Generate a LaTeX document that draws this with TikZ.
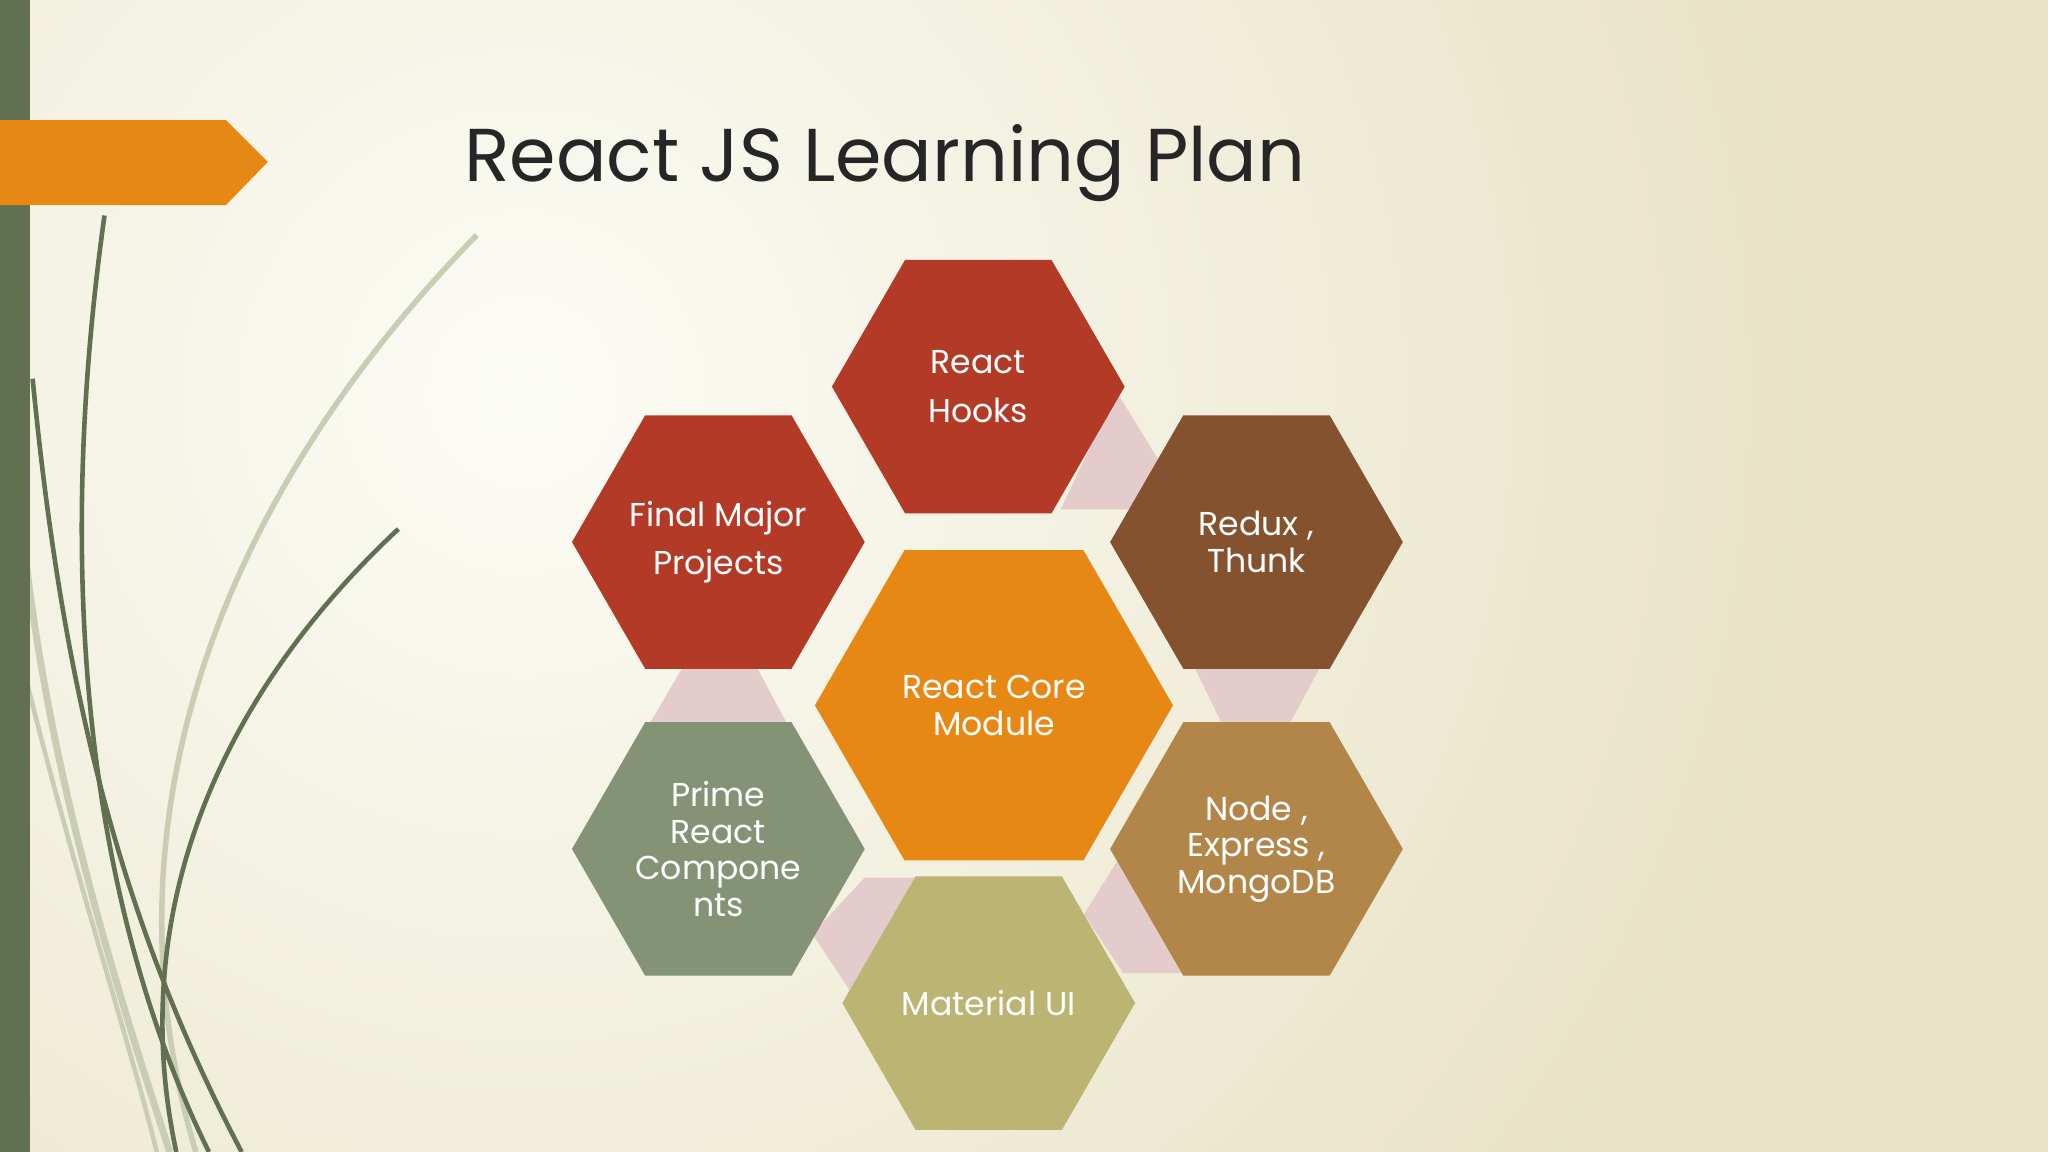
\documentclass[tikz,border=0pt]{standalone}
\usepackage{fontspec}
\setmainfont{Poppins}
\usetikzlibrary{shapes.geometric}
\definecolor{bgA}{RGB}{252,252,246}
\definecolor{bgB}{RGB}{232,227,198}
\definecolor{barg}{RGB}{96,112,80}
\definecolor{orng}{RGB}{232,136,20}
\definecolor{hred}{RGB}{178,58,38}
\definecolor{hbrown}{RGB}{133,82,48}
\definecolor{hsage}{RGB}{132,146,117}
\definecolor{holive}{RGB}{188,180,115}
\definecolor{htan}{RGB}{178,134,72}
\definecolor{pinkc}{RGB}{228,204,204}
\definecolor{grassl}{RGB}{200,205,180}
\tikzset{x=0.01cm,y=-0.01cm,
 hexa/.style={regular polygon,regular polygon sides=6,minimum size=2.24cm,inner sep=0pt,
   text=white,align=center,font=\fontsize{7.2}{9.5}\selectfont},
 gap/.style={fill=pinkc,draw=none}}
\begin{document}
\begin{tikzpicture}
\useasboundingbox (0,0) rectangle (1568,882);
\fill[bgB] (0,0) rectangle (1568,882);
\shade[inner color=bgA,outer color=bgB] (-600,-700) rectangle (1400,1300);
\clip (0,0) rectangle (1568,882);
% grass
\draw[grassl,line width=1.2pt] (365,180) .. controls (150,400) and (80,650) .. (150,882);
\draw[grassl,line width=1.5pt] (20,430) .. controls (40,600) and (90,760) .. (130,882);
\draw[barg,line width=1pt] (80,165) .. controls (40,450) and (70,700) .. (160,882);
\draw[barg,line width=1pt] (25,290) .. controls (50,550) and (100,720) .. (185,882);
\draw[barg,line width=1pt] (305,405) .. controls (150,550) and (100,720) .. (135,882);
\draw[grassl,line width=1pt] (20,520) .. controls (60,680) and (100,800) .. (120,882);
% left bar and arrow
\fill[barg] (0,0) rectangle (23,882);
\fill[orng] (0,92) -- (173,92) -- (205,124) -- (173,157) -- (0,157) -- cycle;
\node[anchor=west,font=\fontsize{16.3}{20}\selectfont,text=black!85] (title) at (343,125) {React JS Learning Plan};
% gaps
\fill[gap] (855,300) -- (893,362) -- (872,390) -- (812,390) -- cycle;
\fill[gap] (522,512) -- (580,512) -- (602,553) -- (498,553) -- cycle;
\fill[gap] (915,512) -- (1010,512) -- (988,553) -- (935,553) -- cycle;
\fill[gap] (662,672) -- (700,672) -- (655,765) -- (622,715) -- cycle;
\fill[gap] (858,655) -- (905,745) -- (860,745) -- (830,700) -- cycle;
% hexagons
\node[hexa,fill=hred] (hooks) at (749,296) {React\\[1pt]Hooks};
\node[hexa,fill=hred] (final) at (550,415) {Final Major\\[1pt]Projects};
\node[hexa,fill=hbrown,font=\fontsize{7.2}{8}\selectfont] (redux) at (962,415) {Redux ,\\Thunk};
\node[hexa,fill=orng,minimum size=2.74cm,font=\fontsize{7.2}{8}\selectfont] (core) at (761,540) {React Core\\Module};
\node[hexa,fill=hsage,font=\fontsize{7.2}{8}\selectfont] (prime) at (550,650) {Prime\\React\\Compone\\nts};
\node[hexa,fill=holive] (mat) at (757,768) {Material UI};
\node[hexa,fill=htan,font=\fontsize{7.2}{8}\selectfont] (node) at (962,650) {Node ,\\Express ,\\MongoDB};
\end{tikzpicture}
\end{document}
